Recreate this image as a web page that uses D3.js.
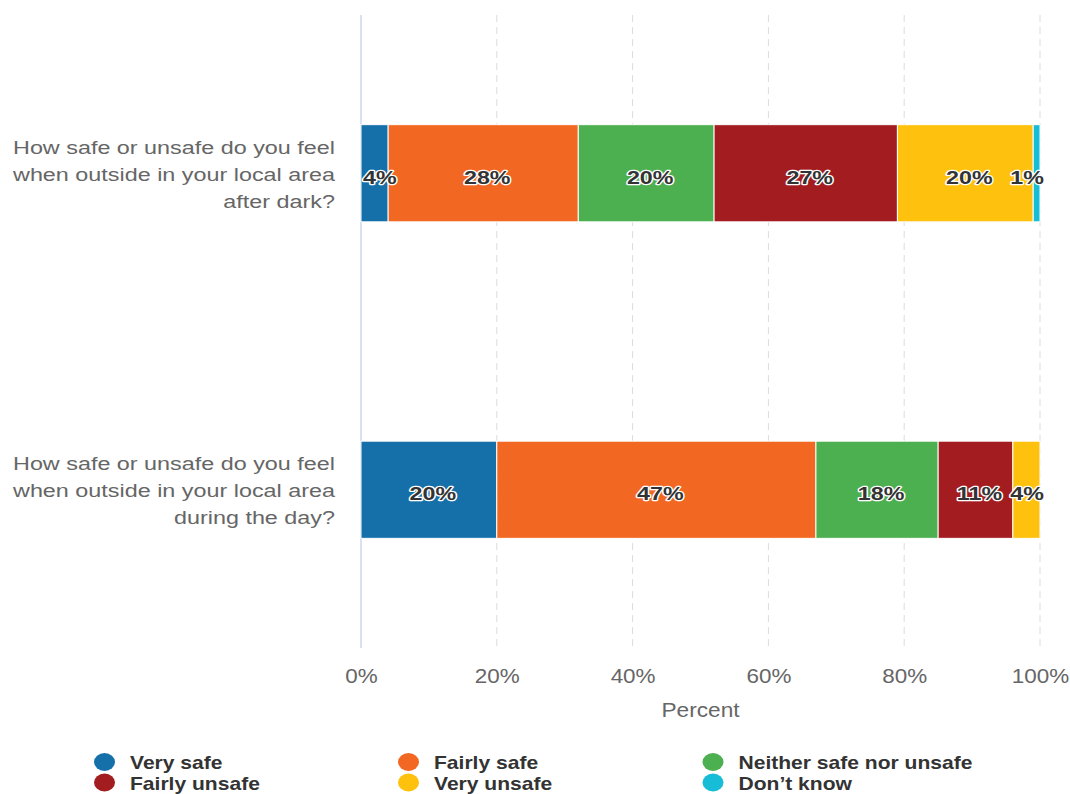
<!DOCTYPE html>
<html>
<head>
<meta charset="utf-8">
<script src="https://cdn.jsdelivr.net/npm/d3@7/dist/d3.min.js"></script>
<style>
  html, body { margin: 0; padding: 0; background: #ffffff; }
  svg { display: block; font-family: "Liberation Sans", Arial, Helvetica, sans-serif; }
</style>
</head>
<body>
<svg id="chart" width="1070" height="794"></svg>
<script>
// Survey questions (each split into its wrapped lines)
const questions = [
  ["How safe or unsafe do you feel", "when outside in your local area", "after dark?"],
  ["How safe or unsafe do you feel", "when outside in your local area", "during the day?"]
];

// Response categories, in stacking order
const seriesNames = ["Very safe", "Fairly safe", "Neither safe nor unsafe", "Fairly unsafe", "Very unsafe", "Don\u2019t know"];
const seriesColors = ["#1570aa", "#f26722", "#4caf50", "#a31c1f", "#fec10e", "#17bdd6"];

// Percent of respondents per answer, one value per question
const verySafe     = [4, 20];
const fairlySafe   = [28, 47];
const neitherSafe  = [20, 18];
const fairlyUnsafe = [27, 11];
const veryUnsafe   = [20, 4];
const dontKnow     = [1, 0];

// Axis ticks
const tickValues = [0, 20, 40, 60, 80, 100];
const tickLabels = ["0%", "20%", "40%", "60%", "80%", "100%"];
const axisTitle = "Percent";

const seriesValues = [verySafe, fairlySafe, neitherSafe, fairlyUnsafe, veryUnsafe, dontKnow];

const svg = d3.select("#chart");
const plot = { left: 361, right: 1040, top: 15, bottom: 648 };

const x = d3.scaleLinear().domain([0, 100]).range([plot.left, plot.right]);
const y = d3.scaleBand()
  .domain(d3.range(questions.length))
  .range([plot.top, plot.bottom])
  .paddingInner(0.693)
  .paddingOuter(0.3465);

// Dashed vertical gridlines
svg.append("g")
  .selectAll("line")
  .data(tickValues.filter(v => v > 0))
  .join("line")
  .attr("x1", d => x(d)).attr("x2", d => x(d))
  .attr("y1", plot.top).attr("y2", plot.bottom)
  .attr("stroke", "#dcdcdc")
  .attr("stroke-width", 1)
  .attr("stroke-dasharray", "7,5");

// Category axis line
svg.append("line")
  .attr("x1", x(0)).attr("x2", x(0))
  .attr("y1", plot.top).attr("y2", plot.bottom)
  .attr("stroke", "#ccd6eb")
  .attr("stroke-width", 1.5);

// Stack the series
const rows = questions.map((q, i) => {
  const r = { idx: i };
  seriesNames.forEach((name, s) => { r[name] = seriesValues[s][i]; });
  return r;
});
const stacked = d3.stack().keys(seriesNames)(rows);

const barGroup = svg.append("g");
stacked.forEach((layer, s) => {
  barGroup.append("g")
    .attr("fill", seriesColors[s])
    .selectAll("rect")
    .data(layer.filter(d => d[1] - d[0] > 0))
    .join("rect")
    .attr("x", d => x(d[0]))
    .attr("width", d => x(d[1]) - x(d[0]))
    .attr("y", d => y(d.data.idx))
    .attr("height", y.bandwidth())
    .attr("stroke", "#ffffff")
    .attr("stroke-width", 1);
});

// Data labels (kept inside the plot edges where needed)
const labelG = svg.append("g");
const labelScaleX = 1.33;
stacked.forEach((layer) => {
  layer.forEach(d => {
    const v = d[1] - d[0];
    if (v <= 0) return;
    const cy = y(d.data.idx) + y.bandwidth() / 2;
    const g = labelG.append("g");
    const t = g.append("text")
      .text(v + "%")
      .attr("text-anchor", "middle")
      .attr("font-size", "17.5px")
      .attr("font-weight", "bold")
      .attr("fill", "#333333")
      .attr("stroke", "#ffffff")
      .attr("stroke-width", 2.4)
      .attr("stroke-linejoin", "round")
      .attr("paint-order", "stroke");
    const w = t.node().getComputedTextLength() * labelScaleX + 2;
    let cx = (x(d[0]) + x(d[1])) / 2 + 4;
    if (cx - w / 2 < plot.left + 1) cx = plot.left + 1 + w / 2;
    if (cx + w / 2 > plot.right + 5) cx = plot.right + 5 - w / 2;
    g.attr("transform", `translate(${cx},${cy + 10.5}) scale(${labelScaleX},1)`);
  });
});

// Question labels on the category axis
const qG = svg.append("g");
questions.forEach((lines, i) => {
  const cy = y(i) + y.bandwidth() / 2;
  lines.forEach((line, k) => {
    qG.append("g")
      .attr("transform", `translate(335,${cy + 7.5 + (k - 1) * 27}) scale(1.32,1)`)
      .append("text")
      .text(line)
      .attr("text-anchor", "end")
      .attr("font-size", "17.7px")
      .attr("fill", "#666666");
  });
});

// Value axis tick labels
const xAxis = d3.axisBottom(x)
  .tickValues(tickValues)
  .tickFormat((d, i) => tickLabels[i])
  .tickSize(0)
  .tickPadding(0);
const axG = svg.append("g")
  .attr("transform", `translate(0,${plot.bottom})`)
  .call(xAxis);
axG.select(".domain").remove();
axG.selectAll("text")
  .attr("y", 35)
  .attr("dy", null)
  .attr("font-size", "21px")
  .attr("font-family", "\"Liberation Sans\", Arial, sans-serif")
  .attr("fill", "#666666")
  .attr("transform", "scale(1.07,1)");

// Axis title
svg.append("g")
  .attr("transform", `translate(${(plot.left + plot.right) / 2},717) scale(1.08,1)`)
  .append("text")
  .text(axisTitle)
  .attr("text-anchor", "middle")
  .attr("font-size", "21px")
  .attr("fill", "#666666");

// Legend: three columns, two rows
const legendCols = [104.5, 408.5, 713];
const legendRows = [762, 782.5];
const legG = svg.append("g");
seriesNames.forEach((name, s) => {
  const cx = legendCols[s % 3];
  const cy = legendRows[Math.floor(s / 3)];
  legG.append("ellipse")
    .attr("cx", cx).attr("cy", cy)
    .attr("rx", 10.5).attr("ry", 9)
    .attr("fill", seriesColors[s]);
  legG.append("g")
    .attr("transform", `translate(${cx + 25.5},${cy + 7}) scale(1.17,1)`)
    .append("text")
    .text(name)
    .attr("font-size", "18px")
    .attr("font-weight", "bold")
    .attr("fill", "#333333");
});
</script>
</body>
</html>
